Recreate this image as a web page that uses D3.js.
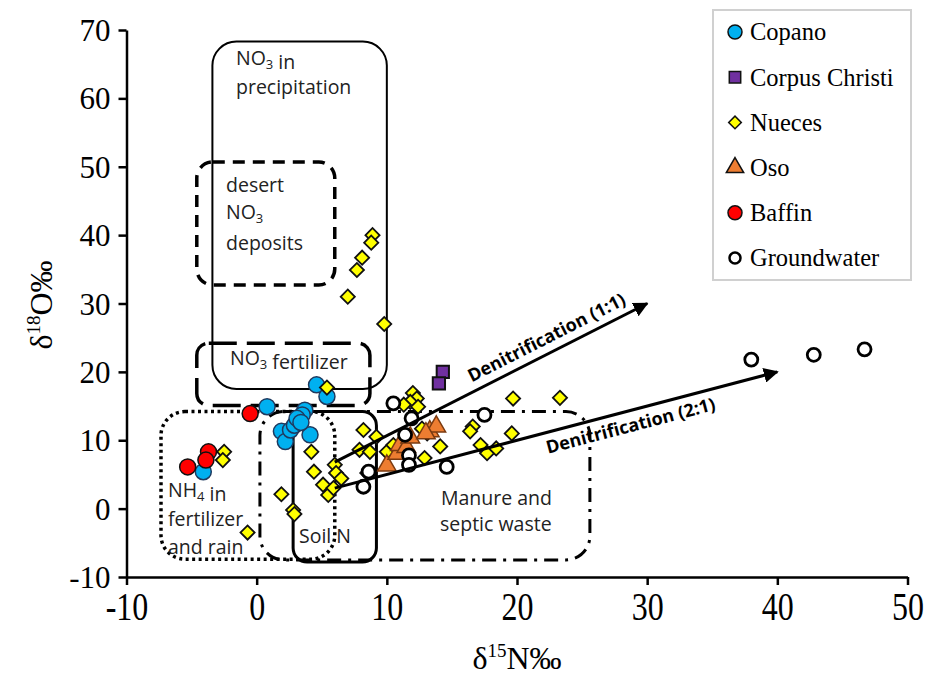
<!DOCTYPE html>
<html>
<head>
<meta charset="utf-8">
<script src="https://cdn.jsdelivr.net/npm/d3@7"></script>
<style>
  body { margin: 0; background: #fff; }
  svg { display: block; }
</style>
</head>
<body>
<div id="chart"></div>
<script>
// tick values
var xTicks = [-10, 0, 10, 20, 30, 40, 50];
var yTicks = [-10, 0, 10, 20, 30, 40, 50, 60, 70];

// series: [d15N, d18O]
var copano = [[-4.1, 5.4], [0.8, 14.9], [4.6, 18.1], [5.4, 16.4], [3.7, 14.4], [3.5, 13.7],
  [1.9, 11.3], [2.2, 9.8], [2.6, 11.5], [2.9, 12.2], [3.1, 13.2], [4.1, 10.8], [3.4, 12.6]];
var corpusChristi = [[14.3, 20.0], [14.0, 18.3]];
var nueces = [[-2.5, 8.3], [-2.6, 7.1], [-0.7, -3.5], [8.9, 40.0], [8.8, 38.9], [8.1, 36.7],
  [7.7, 34.9], [7.0, 31.0], [9.8, 27.0], [5.4, 17.7], [4.2, 8.3], [4.4, 5.4], [1.9, 2.1],
  [2.8, -0.2], [2.9, -0.8], [6.0, 6.4], [6.1, 5.2], [6.5, 4.4], [5.1, 3.5], [5.5, 2.0],
  [5.9, 3.0], [8.2, 11.5], [7.9, 8.6], [8.7, 8.3], [9.2, 10.5], [10.0, 8.3], [10.5, 9.3],
  [8.5, 5.2], [12.0, 16.9], [12.3, 16.1], [11.8, 15.6], [11.3, 15.2], [12.4, 14.9],
  [12.7, 11.7], [13.1, 11.0], [14.1, 9.1], [12.9, 7.4], [16.6, 12.0], [16.4, 11.3],
  [17.2, 9.3], [17.7, 8.1], [18.4, 8.8], [19.6, 11.0], [19.7, 16.1], [23.3, 16.2]];
var oso = [[10.0, 6.3], [10.8, 8.0], [11.0, 9.3], [11.5, 9.0], [11.8, 10.4], [13.3, 11.3],
  [13.8, 12.0], [13.0, 11.0]];
var baffin = [[-5.3, 6.1], [-3.7, 8.3], [-3.9, 7.1], [-0.5, 13.9]];
var groundwater = [[10.5, 15.4], [11.9, 13.2], [17.5, 13.7], [11.4, 10.8], [11.7, 7.8],
  [11.7, 6.4], [14.6, 6.1], [8.6, 5.4], [8.2, 3.2], [38.0, 21.8], [42.8, 22.5], [46.7, 23.3]];

// source areas, in data units
var regions = [
  {name: "precip", x0: -3.4, x1: 10.0, y0: 17.5, y1: 68.3, dash: null, w: 2, r: 24},
  {name: "desert", x0: -4.6, x1: 6.0, y0: 32.7, y1: 50.7, dash: "12,8", w: 3.5, r: 16},
  {name: "fert", x0: -4.6, x1: 8.7, y0: 15.1, y1: 24.2, dash: "28,10", w: 3.5, r: 12},
  {name: "nh4", x0: -7.35, x1: 6.0, y0: -7.4, y1: 14.2, dash: "3,3.5", w: 3.5, r: 24},
  {name: "manure", x0: 0.25, x1: 25.6, y0: -7.5, y1: 14.2, dash: "14,7,3,7", w: 3, r: 24},
  {name: "soil", x0: 2.8, x1: 9.2, y0: -7.8, y1: 14.2, dash: null, w: 3, r: 14}
];
var arrows = [
  {label: "Denitrification (1:1)", from: [6.0, 6.8], to: [30, 30], t: 0.7, off: -9},
  {label: "Denitrification (2:1)", from: [6.0, 3.0], to: [40, 20], t: 0.66, off: 21}
];
var legendNames = ["Copano", "Corpus Christi", "Nueces", "Oso", "Baffin", "Groundwater"];

var width = 927, height = 679;
var serif = "'Liberation Serif', 'Times New Roman', serif";
var sans = "'Open Sans', 'Noto Sans', sans-serif";

var x = d3.scaleLinear().domain([-10, 50]).range([126.5, 907.5]);
var y = d3.scaleLinear().domain([-10, 70]).range([577, 30]);

var svg = d3.select("#chart").append("svg")
  .attr("width", width)
  .attr("height", height);

var defs = svg.append("defs");
defs.append("marker")
  .attr("id", "head")
  .attr("viewBox", "0 0 10 10")
  .attr("refX", 9).attr("refY", 5)
  .attr("markerWidth", 5).attr("markerHeight", 5)
  .attr("markerUnits", "strokeWidth")
  .attr("orient", "auto")
  .append("path").attr("d", "M0,0 L10,5 L0,10 z").attr("fill", "#000");

// boxes
svg.append("g").selectAll("rect")
  .data(regions)
  .enter().append("rect")
  .attr("x", function(d) { return x(d.x0); })
  .attr("y", function(d) { return y(d.y1); })
  .attr("width", function(d) { return x(d.x1) - x(d.x0); })
  .attr("height", function(d) { return y(d.y0) - y(d.y1); })
  .attr("rx", function(d) { return d.r; })
  .attr("fill", "none")
  .attr("stroke", "#000")
  .attr("stroke-width", function(d) { return d.w; })
  .attr("stroke-dasharray", function(d) { return d.dash; });

// region labels (Calibri-like)
var lab = svg.append("g")
  .style("font-family", sans)
  .style("font-size", "19.5px")
  .attr("fill", "#222");

function addLabel(px, py, parts, size) {
  var t = lab.append("text").attr("x", px).attr("y", py);
  if (size) t.style("font-size", size + "px");
  parts.forEach(function(p) {
    if (typeof p === "string") {
      t.append("tspan").text(p);
    } else {
      t.append("tspan").style("font-size", "13px").attr("dy", 4).text(p.s);
      t.append("tspan").attr("dy", -4).text("");
    }
  });
}
addLabel(236, 65, ["NO", {s: "3"}, " in"]);
addLabel(236, 94, ["precipitation"]);
addLabel(226, 192, ["desert"]);
addLabel(226, 219, ["NO", {s: "3"}]);
addLabel(226, 250, ["deposits"]);
addLabel(230, 365, ["NO", {s: "3"}, " fertilizer"]);
addLabel(168, 497, ["NH", {s: "4"}, " in"]);
addLabel(168, 526, ["fertilizer"]);
addLabel(168, 554, ["and rain"]);
addLabel(299, 543, ["Soil N"]);
addLabel(441, 505, ["Manure and"], 19.5);
addLabel(440, 530.5, ["septic waste"], 19.5);

// axes
var fmt = function(d) { return String(d); };
var xAxis = d3.axisBottom(x).tickValues(xTicks).tickFormat(fmt).tickSize(8).tickSizeOuter(0);
var yAxis = d3.axisLeft(y).tickValues(yTicks).tickFormat(fmt).tickSize(8).tickSizeOuter(0);

var gx = svg.append("g")
  .attr("transform", "translate(0," + y(-10) + ")")
  .call(xAxis);
var gy = svg.append("g")
  .attr("transform", "translate(" + x(-10) + ",0)")
  .call(yAxis);

[gx, gy].forEach(function(g) {
  g.select(".domain").attr("stroke-width", 2.5);
  g.selectAll(".tick line").attr("stroke-width", 2.5);
  g.selectAll(".tick text")
    .style("font-family", serif)
    .attr("fill", "#000");
});
// x labels are drawn a little taller in the source figure
gx.selectAll(".tick text").style("font-size", "32px")
  .attr("dy", null).attr("y", 43 / 1.22)
  .attr("transform", "scale(1,1.22)");
gy.selectAll(".tick text").style("font-size", "31px").attr("x", -16).attr("dy", "0.34em");

// axis titles
var xt = svg.append("text")
  .attr("x", 517).attr("y", 669)
  .attr("text-anchor", "middle")
  .style("font-family", serif)
  .style("font-size", "32px");
xt.append("tspan").text("δ");
xt.append("tspan").style("font-size", "19px").attr("dy", -12).text("15");
xt.append("tspan").attr("dy", 12).text("N‰");

var yt = svg.append("text")
  .attr("transform", "translate(52,305) rotate(-90)")
  .attr("text-anchor", "middle")
  .style("font-family", serif)
  .style("font-size", "32px");
yt.append("tspan").text("δ");
yt.append("tspan").style("font-size", "19px").attr("dy", -12).text("18");
yt.append("tspan").attr("dy", 12).text("O‰");

// points
var pts = svg.append("g");
function circles(data, fill, stroke, r, sw) {
  pts.append("g").selectAll("circle")
    .data(data).enter().append("circle")
    .attr("cx", function(d) { return x(d[0]); })
    .attr("cy", function(d) { return y(d[1]); })
    .attr("r", r)
    .attr("fill", fill).attr("stroke", stroke).attr("stroke-width", sw);
}
function symbols(data, type, size, fill, stroke, sw, rot) {
  pts.append("g").selectAll("path")
    .data(data).enter().append("path")
    .attr("d", d3.symbol().type(type).size(size))
    .attr("transform", function(d) { return "translate(" + x(d[0]) + "," + y(d[1]) + ")" + (rot ? " rotate(" + rot + ")" : ""); })
    .attr("fill", fill).attr("stroke", stroke).attr("stroke-width", sw);
}
circles(copano, "#00b0f0", "#1f3a5f", 8, 1.5);
symbols(corpusChristi, d3.symbolSquare, 150, "#7030a0", "#111", 2);
symbols(nueces, d3.symbolSquare, 100, "#ffff00", "#111", 1.8, 45);
symbols(oso, d3.symbolTriangle, 150, "#ed7d31", "#7a3a10", 1.5);
circles(baffin, "#ff0000", "#111", 8, 1.5);
circles(groundwater, "#fff", "#000", 6.5, 2.8);

// denitrification arrows
var ag = svg.append("g");
arrows.forEach(function(a) {
  var x1 = x(a.from[0]), y1 = y(a.from[1]), x2 = x(a.to[0]), y2 = y(a.to[1]);
  ag.append("line")
    .attr("x1", x1).attr("y1", y1).attr("x2", x2).attr("y2", y2)
    .attr("stroke", "#000").attr("stroke-width", 3)
    .attr("marker-end", "url(#head)");
  var ang = Math.atan2(y2 - y1, x2 - x1) * 180 / Math.PI;
  var mx = x1 + (x2 - x1) * a.t, my = y1 + (y2 - y1) * a.t;
  ag.append("text")
    .attr("transform", "translate(" + mx + "," + my + ") rotate(" + ang + ")")
    .attr("text-anchor", "middle")
    .attr("y", a.off)
    .style("font-family", sans)
    .style("font-weight", "bold")
    .style("font-size", "18px")
    .text(a.label);
});

// legend
var lg = svg.append("g");
lg.append("rect")
  .attr("x", 713).attr("y", 10).attr("width", 198).attr("height", 270)
  .attr("fill", "#fff").attr("stroke", "#d0d0d0").attr("stroke-width", 2);
var legendRows = lg.selectAll("g.row")
  .data(legendNames).enter().append("g")
  .attr("class", "row")
  .attr("transform", function(d, i) { return "translate(735," + (32 + i * 45.2) + ")"; });
legendRows.append("text")
  .attr("x", 15).attr("dy", "0.34em")
  .style("font-family", serif)
  .style("font-size", "24.5px")
  .text(function(d) { return d; });
legendRows.each(function(d, i) {
  var g = d3.select(this);
  if (i === 0) g.append("circle").attr("r", 7).attr("fill", "#00b0f0").attr("stroke", "#111").attr("stroke-width", 1.5);
  if (i === 1) g.append("path").attr("d", d3.symbol().type(d3.symbolSquare).size(130)).attr("fill", "#7030a0").attr("stroke", "#111").attr("stroke-width", 1.5);
  if (i === 2) g.append("path").attr("d", d3.symbol().type(d3.symbolSquare).size(80)).attr("transform", "rotate(45)").attr("fill", "#ffff00").attr("stroke", "#111").attr("stroke-width", 1.5);
  if (i === 3) g.append("path").attr("d", d3.symbol().type(d3.symbolTriangle).size(130)).attr("fill", "#ed7d31").attr("stroke", "#111").attr("stroke-width", 1.5);
  if (i === 4) g.append("circle").attr("r", 7).attr("fill", "#ff0000").attr("stroke", "#111").attr("stroke-width", 1.5);
  if (i === 5) g.append("circle").attr("r", 5.5).attr("fill", "#fff").attr("stroke", "#000").attr("stroke-width", 2.5);
});
</script>
</body>
</html>
